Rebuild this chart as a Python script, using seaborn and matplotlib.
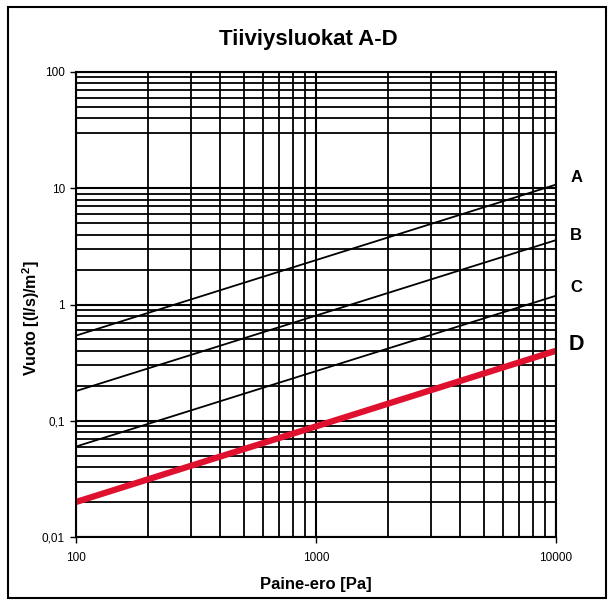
import matplotlib
matplotlib.use("Agg")
import matplotlib.pyplot as plt
import matplotlib.ticker as mticker
from matplotlib.patches import Rectangle
import pandas as pd
import seaborn as sns

# Data
pressure = [100, 10000]
class_names = ["A", "B", "C", "D"]
flow_A = [0.54, 10.75]
flow_B = [0.18, 3.58]
flow_C = [0.06, 1.19]
flow_D = [0.02, 0.40]
label_y = [12.3, 3.96, 1.39, 0.45]
x_ticks = [100, 1000, 10000]
x_tick_labels = ["100", "1000", "10000"]
y_ticks = [0.01, 0.1, 1, 10, 100]
y_tick_labels = ["0,01", "0,1", "1", "10", "100"]

sns.set_style("white")
plt.rcParams["font.family"] = ["Liberation Sans", "DejaVu Sans"]
plt.rcParams["text.color"] = "black"
plt.rcParams["axes.labelcolor"] = "black"
plt.rcParams["xtick.color"] = "black"
plt.rcParams["ytick.color"] = "black"

df = pd.DataFrame({
    "Paine": pressure * 4,
    "Vuoto": flow_A + flow_B + flow_C + flow_D,
    "Luokka": sum([[c] * len(pressure) for c in class_names], []),
})

fig = plt.figure(figsize=(6.16, 6.05), dpi=100)
ax = fig.add_axes([76 / 616, 68 / 605, 480 / 616, 465 / 605])

ax.set_xscale("log")
ax.set_yscale("log")
ax.set_xlim(100, 10000)
ax.set_ylim(0.01, 100)

# grid (minor lines; 20 missing in the top decade as in the reference)
minor_x = [m * d for d in [100, 1000] for m in range(2, 10)]
minor_y = [m * d for d in [0.01, 0.1, 1, 10] for m in range(2, 10) if not (d == 10 and m == 2)]
ax.xaxis.set_minor_locator(mticker.FixedLocator(minor_x))
ax.yaxis.set_minor_locator(mticker.FixedLocator(minor_y))
ax.xaxis.set_minor_formatter(mticker.NullFormatter())
ax.yaxis.set_minor_formatter(mticker.NullFormatter())
ax.set_xticks(x_ticks)
ax.set_xticklabels(x_tick_labels)
ax.set_yticks(y_ticks)
ax.set_yticklabels(y_tick_labels)
ax.grid(True, which="major", color="black", linewidth=1.5)
ax.grid(True, which="minor", color="black", linewidth=1.3)
ax.set_axisbelow(True)

red = "#e0102f"
palette = {"A": "black", "B": "black", "C": "black", "D": red}
sns.lineplot(data=df, x="Paine", y="Vuoto", hue="Luokka", palette=palette,
             legend=False, ax=ax, linewidth=1.3)
for line in ax.get_lines():
    if matplotlib.colors.to_hex(line.get_color()) == red:
        line.set_linewidth(4.5)
        line.set_solid_capstyle("butt")

ax.tick_params(axis="both", which="major", length=4, width=1, color="black",
               labelcolor="black", labelsize=8.5, direction="out", pad=4)
ax.tick_params(axis="x", which="major", pad=7)
ax.tick_params(axis="both", which="minor", length=0)
ax.tick_params(left=True, bottom=True)
for s in ax.spines.values():
    s.set_color("black")
    s.set_linewidth(1.5)

# class labels
for c, yv in zip(class_names, label_y):
    ax.text(12150, yv, c, fontsize=15.5 if c == "D" else 12, fontweight="bold",
            color="black", ha="center", va="center", clip_on=False)

ax.set_xlabel("Paine-ero [Pa]", fontsize=12, fontweight="bold", color="black")
ax.xaxis.set_label_coords(0.5, -(585 - 537) / 465)
ax.xaxis.label.set_va("center")
ax.set_ylabel("Vuoto [(l/s)/m$^\\mathregular{2}$]", fontsize=11.5, fontweight="bold", color="black")
ax.yaxis.set_label_coords(-(76 - 31) / 480, (537 - 318) / 465)
ax.yaxis.label.set_va("center")
fig.text(0.5, 1 - 39 / 605, "Tiiviysluokat A-D", fontsize=16, fontweight="bold",
         color="black", ha="center", va="center")

fig.patches.append(Rectangle((8 / 616, 7 / 605), 598 / 616, 591 / 605,
                             transform=fig.transFigure, fill=False,
                             edgecolor="black", linewidth=1.5))

fig.savefig("out.png", dpi=100)
